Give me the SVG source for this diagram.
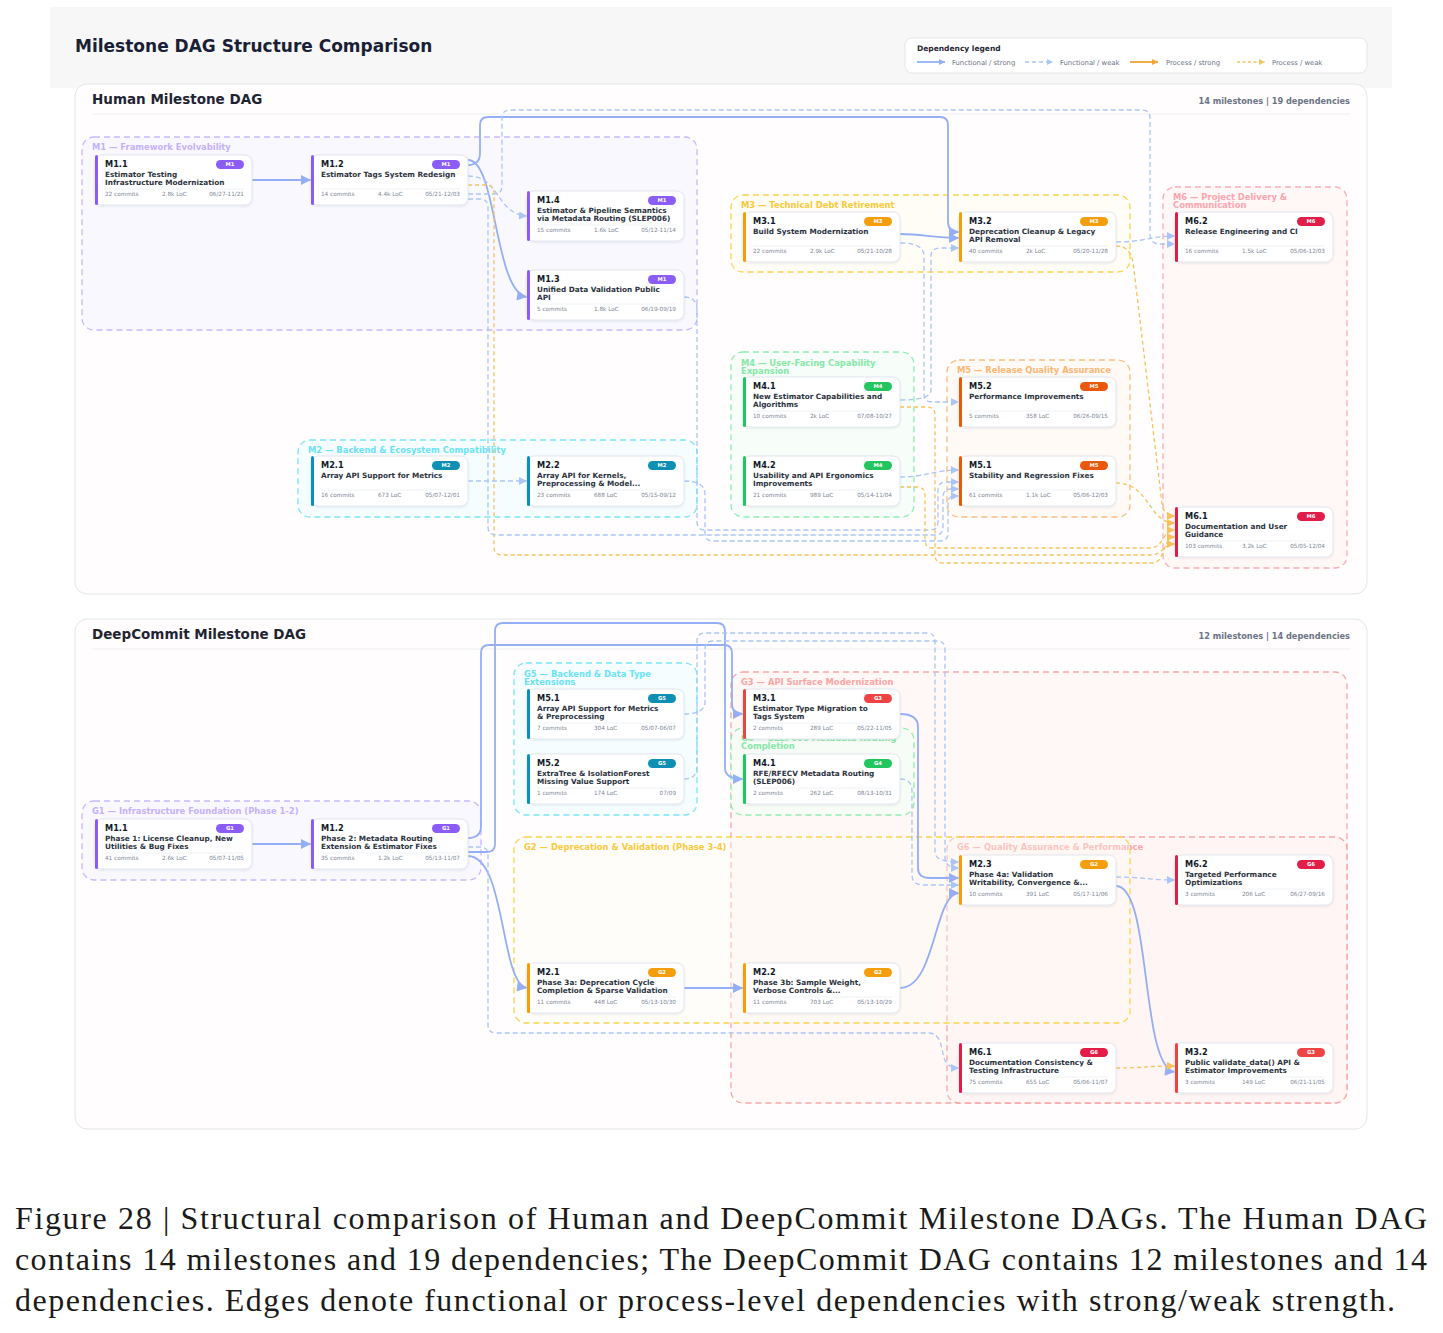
<svg xmlns="http://www.w3.org/2000/svg" width="1443" height="1333" viewBox="0 0 1443 1333">
<defs>
<filter id="sh" x="-10%" y="-20%" width="120%" height="150%"><feDropShadow dx="0" dy="1" stdDeviation="1.2" flood-color="#1e293b" flood-opacity="0.10"/></filter>
<marker id="afs" viewBox="0 0 10 10" refX="10" refY="5" markerWidth="11" markerHeight="10" orient="auto" markerUnits="userSpaceOnUse"><path d="M0,0 L10,5 L0,10 z" fill="#94aff6"/></marker>
<marker id="afw" viewBox="0 0 10 10" refX="10" refY="5" markerWidth="9" markerHeight="8" orient="auto" markerUnits="userSpaceOnUse"><path d="M0,0 L10,5 L0,10 z" fill="#a9c6f6"/></marker>
<marker id="aps" viewBox="0 0 10 10" refX="10" refY="5" markerWidth="11" markerHeight="10" orient="auto" markerUnits="userSpaceOnUse"><path d="M0,0 L10,5 L0,10 z" fill="#f0a437"/></marker>
<marker id="apw" viewBox="0 0 10 10" refX="10" refY="5" markerWidth="9" markerHeight="8" orient="auto" markerUnits="userSpaceOnUse"><path d="M0,0 L10,5 L0,10 z" fill="#f8c25a"/></marker>
<marker id="lfs" viewBox="0 0 10 10" refX="10" refY="5" markerWidth="6" markerHeight="6" orient="auto" markerUnits="userSpaceOnUse"><path d="M0,0 L10,5 L0,10 z" fill="#94aff6"/></marker>
<marker id="lfw" viewBox="0 0 10 10" refX="10" refY="5" markerWidth="6" markerHeight="6" orient="auto" markerUnits="userSpaceOnUse"><path d="M0,0 L10,5 L0,10 z" fill="#a9c6f6"/></marker>
<marker id="lps" viewBox="0 0 10 10" refX="10" refY="5" markerWidth="6" markerHeight="6" orient="auto" markerUnits="userSpaceOnUse"><path d="M0,0 L10,5 L0,10 z" fill="#f0a437"/></marker>
<marker id="lpw" viewBox="0 0 10 10" refX="10" refY="5" markerWidth="6" markerHeight="6" orient="auto" markerUnits="userSpaceOnUse"><path d="M0,0 L10,5 L0,10 z" fill="#f8c25a"/></marker>
</defs>
<style>
.card{fill:#ffffff;stroke:#e1e6ee;stroke-width:1;filter:url(#sh)}
.nt{font-family:"DejaVu Sans",sans-serif;font-weight:bold;font-size:8.2px;fill:#111827}
.nd{font-family:"DejaVu Sans",sans-serif;font-weight:bold;font-size:7.3px;fill:#2b3240}
.nf{font-family:"DejaVu Sans",sans-serif;font-size:5.7px;fill:#7c8596}
.bt{font-family:"DejaVu Sans",sans-serif;font-weight:bold;font-size:5.3px;fill:#ffffff;text-anchor:middle}
.sep{stroke:#eceff4;stroke-width:0.8}
.grp{stroke-width:1.3;stroke-dasharray:6 4}
.gl{font-family:"DejaVu Sans",sans-serif;font-weight:bold;font-size:8.4px}
.fs{fill:none;stroke:#94aff6;stroke-width:1.8;marker-end:url(#afs)}
.fw{fill:none;stroke:#a9c6f6;stroke-width:1.3;stroke-dasharray:5 3;marker-end:url(#afw)}
.ps{fill:none;stroke:#f0a437;stroke-width:1.8;marker-end:url(#aps)}
.pw{fill:none;stroke:#f8c25a;stroke-width:1.3;stroke-dasharray:4 3;marker-end:url(#apw)}
.panel{fill:#fffdfd;stroke:#e3e6ea;stroke-width:1}
.pt{font-family:"DejaVu Sans",sans-serif;font-weight:bold;font-size:13.5px;fill:#1f2433}
.pc{font-family:"DejaVu Sans",sans-serif;font-weight:bold;font-size:8.2px;fill:#6b7385;text-anchor:end}
.lg{font-family:"DejaVu Sans",sans-serif;font-size:6.8px;fill:#6b7385}
.cap{font-family:"Liberation Serif","DejaVu Serif",serif;font-size:32px;fill:#1a1a1a}
.c1{fill:#8b5cf6}.c2{fill:#0e8fb3}.c3{fill:#f59e0b}.c4{fill:#22c55e}.c5{fill:#ea580c}.c6{fill:#e11d48}.c7{fill:#ef4444}
</style>

<rect x="50" y="7" width="1342" height="81" fill="#f7f7f8"/>
<text x="75" y="52" font-family="DejaVu Sans, sans-serif" font-weight="bold" font-size="17" fill="#1a1f36">Milestone DAG Structure Comparison</text>

<g id="legend">
<rect x="905" y="38" width="462" height="35" rx="7" fill="#ffffff" stroke="#e3e6ea"/>
<text x="917" y="50.5" font-family="DejaVu Sans, sans-serif" font-weight="bold" font-size="7.5" fill="#1f2433">Dependency legend</text>
<path d="M917,62 L945,62" fill="none" stroke="#94aff6" stroke-width="1.8" marker-end="url(#lfs)"/>
<text class="lg" x="952" y="64.5">Functional / strong</text>
<path d="M1025,62 L1053,62" fill="none" stroke="#a9c6f6" stroke-width="1.3" stroke-dasharray="4 3" marker-end="url(#lfw)"/>
<text class="lg" x="1060" y="64.5">Functional / weak</text>
<path d="M1130,62 L1158,62" fill="none" stroke="#f0a437" stroke-width="1.8" marker-end="url(#lps)"/>
<text class="lg" x="1166" y="64.5">Process / strong</text>
<path d="M1237,62 L1265,62" fill="none" stroke="#f8c25a" stroke-width="1.3" stroke-dasharray="3 2.5" marker-end="url(#lpw)"/>
<text class="lg" x="1272" y="64.5">Process / weak</text>
</g>

<!-- Panels -->
<g id="panel-human">
<rect class="panel" x="75" y="84" width="1292" height="510" rx="12"/>
<text class="pt" x="92" y="104">Human Milestone DAG</text>
<text class="pc" x="1350" y="104">14 milestones | 19 dependencies</text>
<line x1="92" y1="114" x2="1350" y2="114" stroke="#eef0f3"/>
</g>
<g id="panel-deepcommit">
<rect class="panel" x="75" y="619" width="1292" height="510" rx="12"/>
<text class="pt" x="92" y="639">DeepCommit Milestone DAG</text>
<text class="pc" x="1350" y="639">12 milestones | 14 dependencies</text>
<line x1="92" y1="649" x2="1350" y2="649" stroke="#eef0f3"/>
</g>

<!-- Human groups -->
<g id="h-groups">
<g id="h-grp-m1"><rect class="grp" x="82" y="137" width="615" height="193" rx="12" fill="#faf8ff" stroke="#c9b8fb"/><text class="gl" x="92" y="150" fill="#c4b2fb">M1 — Framework Evolvability</text></g>
<g id="h-grp-m3"><rect class="grp" x="731" y="195" width="399" height="77" rx="12" fill="#fffdf6" stroke="#fcd34d"/><text class="gl" x="741" y="208" fill="#fbc93a">M3 — Technical Debt Retirement</text></g>
<g id="h-grp-m6"><rect class="grp" x="1163" y="187" width="184" height="381" rx="12" fill="#fff8f7" stroke="#fdacb6"/><text class="gl" x="1173" y="199.5" fill="#fda4af">M6 — Project Delivery &amp;</text><text class="gl" x="1173" y="207.5" fill="#fda4af">Communication</text></g>
<g id="h-grp-m4"><rect class="grp" x="731" y="352" width="183" height="165" rx="12" fill="#f7fdf8" stroke="#8eeeb0"/><text class="gl" x="741" y="365.5" fill="#86e9a8">M4 — User-Facing Capability</text><text class="gl" x="741" y="373.5" fill="#86e9a8">Expansion</text></g>
<g id="h-grp-m5"><rect class="grp" x="947" y="360" width="183" height="157" rx="12" fill="#fffaf5" stroke="#fdbd80"/><text class="gl" x="957" y="373" fill="#fdb574">M5 — Release Quality Assurance</text></g>
<g id="h-grp-m2"><rect class="grp" x="298" y="440" width="399" height="77" rx="12" fill="#f6fdff" stroke="#7ae6f7"/><text class="gl" x="308" y="453" fill="#6be3f6">M2 — Backend &amp; Ecosystem Compatibility</text></g>
</g>

<!-- DeepCommit groups -->
<g id="d-groups">
<g id="d-grp-g3"><rect class="grp" x="731" y="672" width="616" height="431" rx="12" fill="#fff8f7" stroke="#fca5a5"/><text class="gl" x="741" y="684.5" fill="#fca5a5">G3 — API Surface Modernization</text></g>
<g id="d-grp-g4"><rect class="grp" x="731" y="728" width="183" height="87" rx="12" fill="#f6fcf6" fill-opacity="0.8" stroke="#8eeeb0"/><text class="gl" x="741" y="741" fill="#86e9a8">G4 — SLEP006 Metadata Routing</text><text class="gl" x="741" y="749" fill="#86e9a8">Completion</text></g>
<g id="d-grp-g5"><rect class="grp" x="514" y="663" width="183" height="152" rx="12" fill="#f6fdff" stroke="#7ae6f7"/><text class="gl" x="524" y="677" fill="#6be3f6">G5 — Backend &amp; Data Type</text><text class="gl" x="524" y="685" fill="#6be3f6">Extensions</text></g>
<g id="d-grp-g1"><rect class="grp" x="82" y="801" width="399" height="79" rx="12" fill="#faf8ff" stroke="#c9b8fb"/><text class="gl" x="92" y="813.5" fill="#c4b2fb">G1 — Infrastructure Foundation (Phase 1-2)</text></g>
<g id="d-grp-g6"><rect class="grp" x="947" y="837" width="400" height="266" rx="12" fill="#fff4f3" fill-opacity="0.7" stroke="#fca5a5"/><text class="gl" x="957" y="849.5" fill="#fca5a5">G6 — Quality Assurance &amp; Performance</text></g>
<g id="d-grp-g2"><rect class="grp" x="514" y="837" width="616" height="186" rx="12" fill="#fffdf4" fill-opacity="0.35" stroke="#fcd34d"/><text class="gl" x="524" y="849.5" fill="#fbc93a">G2 — Deprecation &amp; Validation (Phase 3-4)</text></g>
</g>

<!-- Connectors -->
<g id="connectors">
<!-- Human -->
<path class="fs" d="M252,180 L311,180"/>
<path class="fs" d="M468,160 C497,160 494,292 527,297"/>
<path class="fw" d="M468,176 C500,176 496,214 527,216"/>
<path class="fs" d="M468,165 Q480,165 480,153 L480,125 Q480,117 488,117 L940,117 Q948,117 948,125 L948,222 Q948,232 959,232"/>
<path class="fw" d="M468,194 L494,194 Q502,194 502,186 L502,118 Q502,110 510,110 L1142,110 Q1150,110 1150,118 L1150,234 Q1150,244 1160,244 L1175,244"/>
<path class="pw" d="M468,185 L486,185 Q494,185 494,193 L494,547 Q494,555 502,555 L1150,555 C1164,555 1162,544 1175,544"/>
<path class="fw" d="M468,199 L480,199 Q488,199 488,207 L488,527 Q488,535 496,535 L935,535 Q943,535 943,527 L943,497 Q943,489 951,489 L959,489"/>
<path class="fw" d="M684,297 Q697,297 697,310 L697,522 Q697,530 705,530 L930,530 Q938,530 938,522 L938,490 Q938,482 946,482 L959,482"/>
<path class="fw" d="M468,481 L527,481"/>
<path class="fw" d="M684,481 Q705,481 705,494 L705,533 Q705,541 713,541 L940,541 Q948,541 948,533 L948,504 Q948,496 954,496 L959,496"/>
<path class="fs" d="M900,234 C925,234 930,238 959,238"/>
<path class="fw" d="M900,243 Q924,243 924,256 L924,394 Q924,402 932,402 L959,402"/>
<path class="fw" d="M900,400 Q931,400 931,390 L931,256 Q931,248 941,248 L959,248"/>
<path class="fw" d="M900,477 C926,477 934,470 959,470"/>
<path class="pw" d="M900,407 L927,407 Q935,407 935,415 L935,555 Q935,563 943,563 L1152,563 C1166,563 1162,537 1175,537"/>
<path class="pw" d="M900,487 L917,487 Q925,487 925,495 L925,540 Q925,548 933,548 L1150,548 C1164,548 1162,530 1175,530"/>
<path class="pw" d="M1116,483 C1150,483 1148,523 1175,523"/>
<path class="pw" d="M1116,246 Q1130,246 1133,262 L1162,504 Q1164,516 1175,516"/>
<path class="fw" d="M1116,242 C1145,242 1150,236 1175,236"/>
<!-- DeepCommit -->
<path class="fs" d="M252,844 L311,844"/>
<path class="fs" d="M468,856 C506,856 500,984 527,988"/>
<path class="fs" d="M468,838 Q481,838 481,826 L481,653 Q481,645 489,645 L724,645 Q732,645 732,653 L732,704 Q732,714 743,714"/>
<path class="fs" d="M468,852 L487,852 Q495,852 495,844 L495,631 Q495,623 503,623 L717,623 Q725,623 725,631 L725,768 Q725,779 743,779"/>
<path class="fw" d="M468,847 L480,847 Q488,847 488,855 L488,1025 Q488,1033 496,1033 L928,1033 Q938,1033 941,1045 L944,1058 Q947,1068 959,1068"/>
<path class="fw" d="M684,714 Q705,714 705,702 L705,649 Q705,641 713,641 L937,641 Q945,641 945,649 L945,858 Q945,868 959,868"/>
<path class="fw" d="M684,779 Q697,779 697,767 L697,641 Q697,633 705,633 L927,633 Q935,633 935,641 L935,852 Q935,862 959,862"/>
<path class="fs" d="M900,714 Q918,714 918,727 L918,868 Q918,878 930,878 L959,878"/>
<path class="fw" d="M900,779 Q912,779 912,791 L912,875 Q912,885 924,885 L959,885"/>
<path class="fs" d="M684,988 L743,988"/>
<path class="fs" d="M900,988 C936,988 934,893 959,893"/>
<path class="fw" d="M1116,877 C1142,877 1150,880 1175,880"/>
<path class="fs" d="M1116,886 C1152,886 1140,1068 1175,1072"/>
<path class="pw" d="M1116,1068 C1142,1068 1150,1066 1175,1066"/>
</g>

<!-- Human nodes -->
<g id="h-m1-1" transform="translate(95,155)"><rect class="card" width="157" height="50" rx="7"/><rect class="c1" width="3" height="50" rx="1.5"/><text class="nt" x="10" y="11.5">M1.1</text><rect class="c1" x="121" y="5" width="28" height="9" rx="4.5"/><text class="bt" x="135" y="11.4">M1</text><text class="nd" x="10" y="22">Estimator Testing</text><text class="nd" x="10" y="30">Infrastructure Modernization</text><line class="sep" x1="10" y1="34" x2="149" y2="34"/><text class="nf" x="10" y="41">22 commits</text><text class="nf" x="67" y="41">2.8k LoC</text><text class="nf" x="149" y="41" text-anchor="end">06/27-11/21</text></g>
<g id="h-m1-2" transform="translate(311,155)"><rect class="card" width="157" height="50" rx="7"/><rect class="c1" width="3" height="50" rx="1.5"/><text class="nt" x="10" y="11.5">M1.2</text><rect class="c1" x="121" y="5" width="28" height="9" rx="4.5"/><text class="bt" x="135" y="11.4">M1</text><text class="nd" x="10" y="22">Estimator Tags System Redesign</text><line class="sep" x1="10" y1="34" x2="149" y2="34"/><text class="nf" x="10" y="41">14 commits</text><text class="nf" x="67" y="41">4.4k LoC</text><text class="nf" x="149" y="41" text-anchor="end">05/21-12/03</text></g>
<g id="h-m1-4" transform="translate(527,191)"><rect class="card" width="157" height="50" rx="7"/><rect class="c1" width="3" height="50" rx="1.5"/><text class="nt" x="10" y="11.5">M1.4</text><rect class="c1" x="121" y="5" width="28" height="9" rx="4.5"/><text class="bt" x="135" y="11.4">M1</text><text class="nd" x="10" y="22">Estimator &amp; Pipeline Semantics</text><text class="nd" x="10" y="30">via Metadata Routing (SLEP006)</text><line class="sep" x1="10" y1="34" x2="149" y2="34"/><text class="nf" x="10" y="41">15 commits</text><text class="nf" x="67" y="41">1.6k LoC</text><text class="nf" x="149" y="41" text-anchor="end">05/12-11/14</text></g>
<g id="h-m1-3" transform="translate(527,270)"><rect class="card" width="157" height="50" rx="7"/><rect class="c1" width="3" height="50" rx="1.5"/><text class="nt" x="10" y="11.5">M1.3</text><rect class="c1" x="121" y="5" width="28" height="9" rx="4.5"/><text class="bt" x="135" y="11.4">M1</text><text class="nd" x="10" y="22">Unified Data Validation Public</text><text class="nd" x="10" y="30">API</text><line class="sep" x1="10" y1="34" x2="149" y2="34"/><text class="nf" x="10" y="41">5 commits</text><text class="nf" x="67" y="41">1.8k LoC</text><text class="nf" x="149" y="41" text-anchor="end">06/19-09/19</text></g>
<g id="h-m3-1" transform="translate(743,212)"><rect class="card" width="157" height="50" rx="7"/><rect class="c3" width="3" height="50" rx="1.5"/><text class="nt" x="10" y="11.5">M3.1</text><rect class="c3" x="121" y="5" width="28" height="9" rx="4.5"/><text class="bt" x="135" y="11.4">M3</text><text class="nd" x="10" y="22">Build System Modernization</text><line class="sep" x1="10" y1="34" x2="149" y2="34"/><text class="nf" x="10" y="41">22 commits</text><text class="nf" x="67" y="41">2.9k LoC</text><text class="nf" x="149" y="41" text-anchor="end">05/21-10/28</text></g>
<g id="h-m3-2" transform="translate(959,212)"><rect class="card" width="157" height="50" rx="7"/><rect class="c3" width="3" height="50" rx="1.5"/><text class="nt" x="10" y="11.5">M3.2</text><rect class="c3" x="121" y="5" width="28" height="9" rx="4.5"/><text class="bt" x="135" y="11.4">M3</text><text class="nd" x="10" y="22">Deprecation Cleanup &amp; Legacy</text><text class="nd" x="10" y="30">API Removal</text><line class="sep" x1="10" y1="34" x2="149" y2="34"/><text class="nf" x="10" y="41">40 commits</text><text class="nf" x="67" y="41">2k LoC</text><text class="nf" x="149" y="41" text-anchor="end">05/20-11/28</text></g>
<g id="h-m6-2" transform="translate(1175,212)"><rect class="card" width="158" height="50" rx="7"/><rect class="c6" width="3" height="50" rx="1.5"/><text class="nt" x="10" y="11.5">M6.2</text><rect class="c6" x="122" y="5" width="28" height="9" rx="4.5"/><text class="bt" x="136" y="11.4">M6</text><text class="nd" x="10" y="22">Release Engineering and CI</text><line class="sep" x1="10" y1="34" x2="150" y2="34"/><text class="nf" x="10" y="41">16 commits</text><text class="nf" x="67" y="41">1.5k LoC</text><text class="nf" x="150" y="41" text-anchor="end">05/06-12/03</text></g>
<g id="h-m4-1" transform="translate(743,377)"><rect class="card" width="157" height="50" rx="7"/><rect class="c4" width="3" height="50" rx="1.5"/><text class="nt" x="10" y="11.5">M4.1</text><rect class="c4" x="121" y="5" width="28" height="9" rx="4.5"/><text class="bt" x="135" y="11.4">M4</text><text class="nd" x="10" y="22">New Estimator Capabilities and</text><text class="nd" x="10" y="30">Algorithms</text><line class="sep" x1="10" y1="34" x2="149" y2="34"/><text class="nf" x="10" y="41">10 commits</text><text class="nf" x="67" y="41">2k LoC</text><text class="nf" x="149" y="41" text-anchor="end">07/08-10/27</text></g>
<g id="h-m4-2" transform="translate(743,456)"><rect class="card" width="157" height="50" rx="7"/><rect class="c4" width="3" height="50" rx="1.5"/><text class="nt" x="10" y="11.5">M4.2</text><rect class="c4" x="121" y="5" width="28" height="9" rx="4.5"/><text class="bt" x="135" y="11.4">M4</text><text class="nd" x="10" y="22">Usability and API Ergonomics</text><text class="nd" x="10" y="30">Improvements</text><line class="sep" x1="10" y1="34" x2="149" y2="34"/><text class="nf" x="10" y="41">21 commits</text><text class="nf" x="67" y="41">989 LoC</text><text class="nf" x="149" y="41" text-anchor="end">05/14-11/04</text></g>
<g id="h-m5-2" transform="translate(959,377)"><rect class="card" width="157" height="50" rx="7"/><rect class="c5" width="3" height="50" rx="1.5"/><text class="nt" x="10" y="11.5">M5.2</text><rect class="c5" x="121" y="5" width="28" height="9" rx="4.5"/><text class="bt" x="135" y="11.4">M5</text><text class="nd" x="10" y="22">Performance Improvements</text><line class="sep" x1="10" y1="34" x2="149" y2="34"/><text class="nf" x="10" y="41">5 commits</text><text class="nf" x="67" y="41">358 LoC</text><text class="nf" x="149" y="41" text-anchor="end">06/26-09/15</text></g>
<g id="h-m5-1" transform="translate(959,456)"><rect class="card" width="157" height="50" rx="7"/><rect class="c5" width="3" height="50" rx="1.5"/><text class="nt" x="10" y="11.5">M5.1</text><rect class="c5" x="121" y="5" width="28" height="9" rx="4.5"/><text class="bt" x="135" y="11.4">M5</text><text class="nd" x="10" y="22">Stability and Regression Fixes</text><line class="sep" x1="10" y1="34" x2="149" y2="34"/><text class="nf" x="10" y="41">61 commits</text><text class="nf" x="67" y="41">1.1k LoC</text><text class="nf" x="149" y="41" text-anchor="end">05/06-12/03</text></g>
<g id="h-m6-1" transform="translate(1175,507)"><rect class="card" width="158" height="50" rx="7"/><rect class="c6" width="3" height="50" rx="1.5"/><text class="nt" x="10" y="11.5">M6.1</text><rect class="c6" x="122" y="5" width="28" height="9" rx="4.5"/><text class="bt" x="136" y="11.4">M6</text><text class="nd" x="10" y="22">Documentation and User</text><text class="nd" x="10" y="30">Guidance</text><line class="sep" x1="10" y1="34" x2="150" y2="34"/><text class="nf" x="10" y="41">103 commits</text><text class="nf" x="67" y="41">3.2k LoC</text><text class="nf" x="150" y="41" text-anchor="end">05/05-12/04</text></g>
<g id="h-m2-1" transform="translate(311,456)"><rect class="card" width="157" height="50" rx="7"/><rect class="c2" width="3" height="50" rx="1.5"/><text class="nt" x="10" y="11.5">M2.1</text><rect class="c2" x="121" y="5" width="28" height="9" rx="4.5"/><text class="bt" x="135" y="11.4">M2</text><text class="nd" x="10" y="22">Array API Support for Metrics</text><line class="sep" x1="10" y1="34" x2="149" y2="34"/><text class="nf" x="10" y="41">16 commits</text><text class="nf" x="67" y="41">673 LoC</text><text class="nf" x="149" y="41" text-anchor="end">05/07-12/01</text></g>
<g id="h-m2-2" transform="translate(527,456)"><rect class="card" width="157" height="50" rx="7"/><rect class="c2" width="3" height="50" rx="1.5"/><text class="nt" x="10" y="11.5">M2.2</text><rect class="c2" x="121" y="5" width="28" height="9" rx="4.5"/><text class="bt" x="135" y="11.4">M2</text><text class="nd" x="10" y="22">Array API for Kernels,</text><text class="nd" x="10" y="30">Preprocessing &amp; Model...</text><line class="sep" x1="10" y1="34" x2="149" y2="34"/><text class="nf" x="10" y="41">23 commits</text><text class="nf" x="67" y="41">688 LoC</text><text class="nf" x="149" y="41" text-anchor="end">05/15-09/12</text></g>

<!-- DeepCommit nodes -->
<g id="d-m1-1" transform="translate(95,819)"><rect class="card" width="157" height="50" rx="7"/><rect class="c1" width="3" height="50" rx="1.5"/><text class="nt" x="10" y="11.5">M1.1</text><rect class="c1" x="121" y="5" width="28" height="9" rx="4.5"/><text class="bt" x="135" y="11.4">G1</text><text class="nd" x="10" y="22">Phase 1: License Cleanup, New</text><text class="nd" x="10" y="30">Utilities &amp; Bug Fixes</text><line class="sep" x1="10" y1="34" x2="149" y2="34"/><text class="nf" x="10" y="41">41 commits</text><text class="nf" x="67" y="41">2.6k LoC</text><text class="nf" x="149" y="41" text-anchor="end">05/07-11/05</text></g>
<g id="d-m1-2" transform="translate(311,819)"><rect class="card" width="157" height="50" rx="7"/><rect class="c1" width="3" height="50" rx="1.5"/><text class="nt" x="10" y="11.5">M1.2</text><rect class="c1" x="121" y="5" width="28" height="9" rx="4.5"/><text class="bt" x="135" y="11.4">G1</text><text class="nd" x="10" y="22">Phase 2: Metadata Routing</text><text class="nd" x="10" y="30">Extension &amp; Estimator Fixes</text><line class="sep" x1="10" y1="34" x2="149" y2="34"/><text class="nf" x="10" y="41">35 commits</text><text class="nf" x="67" y="41">1.2k LoC</text><text class="nf" x="149" y="41" text-anchor="end">05/13-11/07</text></g>
<g id="d-m5-1" transform="translate(527,689)"><rect class="card" width="157" height="50" rx="7"/><rect class="c2" width="3" height="50" rx="1.5"/><text class="nt" x="10" y="11.5">M5.1</text><rect class="c2" x="121" y="5" width="28" height="9" rx="4.5"/><text class="bt" x="135" y="11.4">G5</text><text class="nd" x="10" y="22">Array API Support for Metrics</text><text class="nd" x="10" y="30">&amp; Preprocessing</text><line class="sep" x1="10" y1="34" x2="149" y2="34"/><text class="nf" x="10" y="41">7 commits</text><text class="nf" x="67" y="41">304 LoC</text><text class="nf" x="149" y="41" text-anchor="end">05/07-06/07</text></g>
<g id="d-m5-2" transform="translate(527,754)"><rect class="card" width="157" height="50" rx="7"/><rect class="c2" width="3" height="50" rx="1.5"/><text class="nt" x="10" y="11.5">M5.2</text><rect class="c2" x="121" y="5" width="28" height="9" rx="4.5"/><text class="bt" x="135" y="11.4">G5</text><text class="nd" x="10" y="22">ExtraTree &amp; IsolationForest</text><text class="nd" x="10" y="30">Missing Value Support</text><line class="sep" x1="10" y1="34" x2="149" y2="34"/><text class="nf" x="10" y="41">1 commits</text><text class="nf" x="67" y="41">174 LoC</text><text class="nf" x="149" y="41" text-anchor="end">07/09</text></g>
<g id="d-m3-1" transform="translate(743,689)"><rect class="card" width="157" height="50" rx="7"/><rect class="c7" width="3" height="50" rx="1.5"/><text class="nt" x="10" y="11.5">M3.1</text><rect class="c7" x="121" y="5" width="28" height="9" rx="4.5"/><text class="bt" x="135" y="11.4">G3</text><text class="nd" x="10" y="22">Estimator Type Migration to</text><text class="nd" x="10" y="30">Tags System</text><line class="sep" x1="10" y1="34" x2="149" y2="34"/><text class="nf" x="10" y="41">2 commits</text><text class="nf" x="67" y="41">289 LoC</text><text class="nf" x="149" y="41" text-anchor="end">05/22-11/05</text></g>
<g id="d-m4-1" transform="translate(743,754)"><rect class="card" width="157" height="50" rx="7"/><rect class="c4" width="3" height="50" rx="1.5"/><text class="nt" x="10" y="11.5">M4.1</text><rect class="c4" x="121" y="5" width="28" height="9" rx="4.5"/><text class="bt" x="135" y="11.4">G4</text><text class="nd" x="10" y="22">RFE/RFECV Metadata Routing</text><text class="nd" x="10" y="30">(SLEP006)</text><line class="sep" x1="10" y1="34" x2="149" y2="34"/><text class="nf" x="10" y="41">2 commits</text><text class="nf" x="67" y="41">262 LoC</text><text class="nf" x="149" y="41" text-anchor="end">08/13-10/31</text></g>
<g id="d-m2-3" transform="translate(959,855)"><rect class="card" width="157" height="50" rx="7"/><rect class="c3" width="3" height="50" rx="1.5"/><text class="nt" x="10" y="11.5">M2.3</text><rect class="c3" x="121" y="5" width="28" height="9" rx="4.5"/><text class="bt" x="135" y="11.4">G2</text><text class="nd" x="10" y="22">Phase 4a: Validation</text><text class="nd" x="10" y="30">Writability, Convergence &amp;...</text><line class="sep" x1="10" y1="34" x2="149" y2="34"/><text class="nf" x="10" y="41">10 commits</text><text class="nf" x="67" y="41">391 LoC</text><text class="nf" x="149" y="41" text-anchor="end">05/17-11/06</text></g>
<g id="d-m6-2" transform="translate(1175,855)"><rect class="card" width="158" height="50" rx="7"/><rect class="c6" width="3" height="50" rx="1.5"/><text class="nt" x="10" y="11.5">M6.2</text><rect class="c6" x="122" y="5" width="28" height="9" rx="4.5"/><text class="bt" x="136" y="11.4">G6</text><text class="nd" x="10" y="22">Targeted Performance</text><text class="nd" x="10" y="30">Optimizations</text><line class="sep" x1="10" y1="34" x2="150" y2="34"/><text class="nf" x="10" y="41">3 commits</text><text class="nf" x="67" y="41">206 LoC</text><text class="nf" x="150" y="41" text-anchor="end">06/27-09/16</text></g>
<g id="d-m2-1" transform="translate(527,963)"><rect class="card" width="157" height="50" rx="7"/><rect class="c3" width="3" height="50" rx="1.5"/><text class="nt" x="10" y="11.5">M2.1</text><rect class="c3" x="121" y="5" width="28" height="9" rx="4.5"/><text class="bt" x="135" y="11.4">G2</text><text class="nd" x="10" y="22">Phase 3a: Deprecation Cycle</text><text class="nd" x="10" y="30">Completion &amp; Sparse Validation</text><line class="sep" x1="10" y1="34" x2="149" y2="34"/><text class="nf" x="10" y="41">11 commits</text><text class="nf" x="67" y="41">448 LoC</text><text class="nf" x="149" y="41" text-anchor="end">05/13-10/30</text></g>
<g id="d-m2-2" transform="translate(743,963)"><rect class="card" width="157" height="50" rx="7"/><rect class="c3" width="3" height="50" rx="1.5"/><text class="nt" x="10" y="11.5">M2.2</text><rect class="c3" x="121" y="5" width="28" height="9" rx="4.5"/><text class="bt" x="135" y="11.4">G2</text><text class="nd" x="10" y="22">Phase 3b: Sample Weight,</text><text class="nd" x="10" y="30">Verbose Controls &amp;...</text><line class="sep" x1="10" y1="34" x2="149" y2="34"/><text class="nf" x="10" y="41">11 commits</text><text class="nf" x="67" y="41">703 LoC</text><text class="nf" x="149" y="41" text-anchor="end">05/13-10/29</text></g>
<g id="d-m6-1" transform="translate(959,1043)"><rect class="card" width="157" height="50" rx="7"/><rect class="c6" width="3" height="50" rx="1.5"/><text class="nt" x="10" y="11.5">M6.1</text><rect class="c6" x="121" y="5" width="28" height="9" rx="4.5"/><text class="bt" x="135" y="11.4">G6</text><text class="nd" x="10" y="22">Documentation Consistency &amp;</text><text class="nd" x="10" y="30">Testing Infrastructure</text><line class="sep" x1="10" y1="34" x2="149" y2="34"/><text class="nf" x="10" y="41">75 commits</text><text class="nf" x="67" y="41">655 LoC</text><text class="nf" x="149" y="41" text-anchor="end">05/06-11/07</text></g>
<g id="d-m3-2" transform="translate(1175,1043)"><rect class="card" width="158" height="50" rx="7"/><rect class="c7" width="3" height="50" rx="1.5"/><text class="nt" x="10" y="11.5">M3.2</text><rect class="c7" x="122" y="5" width="28" height="9" rx="4.5"/><text class="bt" x="136" y="11.4">G3</text><text class="nd" x="10" y="22">Public validate_data() API &amp;</text><text class="nd" x="10" y="30">Estimator Improvements</text><line class="sep" x1="10" y1="34" x2="150" y2="34"/><text class="nf" x="10" y="41">3 commits</text><text class="nf" x="67" y="41">149 LoC</text><text class="nf" x="150" y="41" text-anchor="end">06/21-11/05</text></g>

<g id="caption">
<text class="cap" x="15" y="1229" textLength="1412" lengthAdjust="spacing">Figure 28 | Structural comparison of Human and DeepCommit Milestone DAGs. The Human DAG</text>
<text class="cap" x="15" y="1270" textLength="1412" lengthAdjust="spacing">contains 14 milestones and 19 dependencies; The DeepCommit DAG contains 12 milestones and 14</text>
<text class="cap" x="15" y="1311" textLength="1380" lengthAdjust="spacing">dependencies. Edges denote functional or process-level dependencies with strong/weak strength.</text>
</g>
</svg>
